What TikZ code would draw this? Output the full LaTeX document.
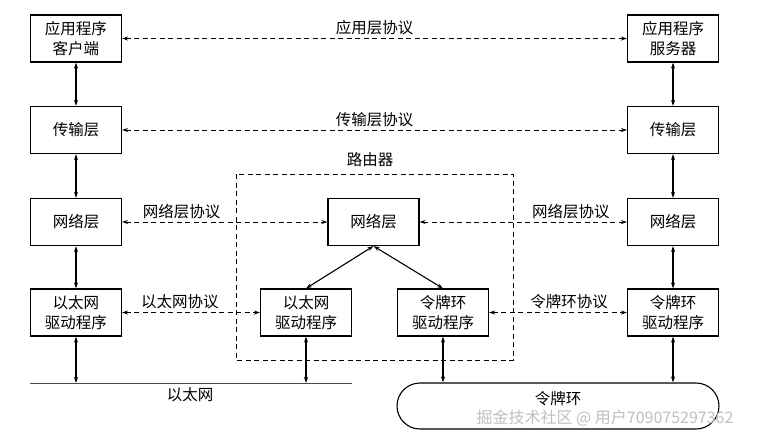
\documentclass[tikz,border=0pt]{standalone}
\usepackage{fontspec}
\setmainfont{Noto Sans CJK SC}
\usetikzlibrary{arrows.meta}
\begin{document}
\begin{tikzpicture}[x=1pt,y=-1pt,
  every node/.style={font=\fontsize{15.5}{19.5}\selectfont},
  box/.style={draw,line width=1.1pt,minimum width=91pt,minimum height=47pt,align=center,inner sep=1pt},
  link/.style={line width=1.1pt,{Stealth[length=6pt,width=4pt]}-{Stealth[length=6pt,width=4pt]}},
  proto/.style={line width=0.9pt,dash pattern=on 5pt off 3.5pt,{Stealth[length=6pt,width=4pt]}-{Stealth[length=6pt,width=4pt]}},
  lab/.style={above,inner sep=3pt}]
\useasboundingbox (0,0) rectangle (769,437);
\fill[white] (0,0) rectangle (769,437);
% left stack
\node[box] (lapp) at (76,38.5) {应用程序\\客户端};
\node[box] (ltr)  at (76,130) {传输层};
\node[box] (lnet) at (76,222) {网络层};
\node[box] (leth) at (76,312.5) {以太网\\驱动程序};
% right stack
\node[box] (rapp) at (673,38.5) {应用程序\\服务器};
\node[box] (rtr)  at (673,130) {传输层};
\node[box] (rnet) at (673,222) {网络层};
\node[box] (rtok) at (673,312.5) {令牌环\\驱动程序};
% router
\node[box] (mnet) at (373.5,222) {网络层};
\node[box] (meth) at (306,312.5) {以太网\\驱动程序};
\node[box] (mtok) at (443,312.5) {令牌环\\驱动程序};
\draw[line width=1pt,dash pattern=on 5pt off 3.5pt] (236,174) rectangle (513,360);
\node (router) at (370,160) {路由器};
% vertical links
\draw[link] (lapp) -- (ltr);
\draw[link] (ltr) -- (lnet);
\draw[link] (lnet) -- (leth);
\draw[link] (rapp) -- (rtr);
\draw[link] (rtr) -- (rnet);
\draw[link] (rnet) -- (rtok);
\draw[link] (mnet.south) -- (meth.north);
\draw[link] (mnet.south) -- (mtok.north);
% ethernet
\coordinate (eL) at (30,383);
\coordinate (eR) at (352,383);
\draw[line width=1pt,black!70] (eL) -- (eR);
\node (ethlab) at (190,395) {以太网};
\draw[link] (leth.south) -- (leth.south |- eL);
\draw[link] (meth.south) -- (meth.south |- eL);
% token ring
\node[draw,line width=1.1pt,rounded corners=23pt,minimum width=322pt,minimum height=46pt] (ring) at (558,406) {};
\node (ringlab) at (558,399) {令牌环};
\draw[link] (mtok.south) -- (mtok.south |- ring.north);
\draw[link] (rtok.south) -- (rtok.south |- ring.north);
% protocols
\draw[proto] (lapp) -- node[lab] {应用层协议} (rapp);
\draw[proto] (ltr) -- node[lab] {传输层协议} (rtr);
\draw[proto] (lnet) -- node[lab,pos=0.29] {网络层协议} (mnet);
\draw[proto] (mnet) -- node[lab,pos=0.73] {网络层协议} (rnet);
\draw[proto] (leth) -- node[lab,pos=0.42] {以太网协议} (meth);
\draw[proto] (mtok) -- node[lab,pos=0.58] {令牌环协议} (rtok);
% watermark
\node[text=black!25,font=\fontsize{16}{18}\selectfont] (wm) at (605,418) {掘金技术社区 @ 用户709075297362};
\end{tikzpicture}
\end{document}
